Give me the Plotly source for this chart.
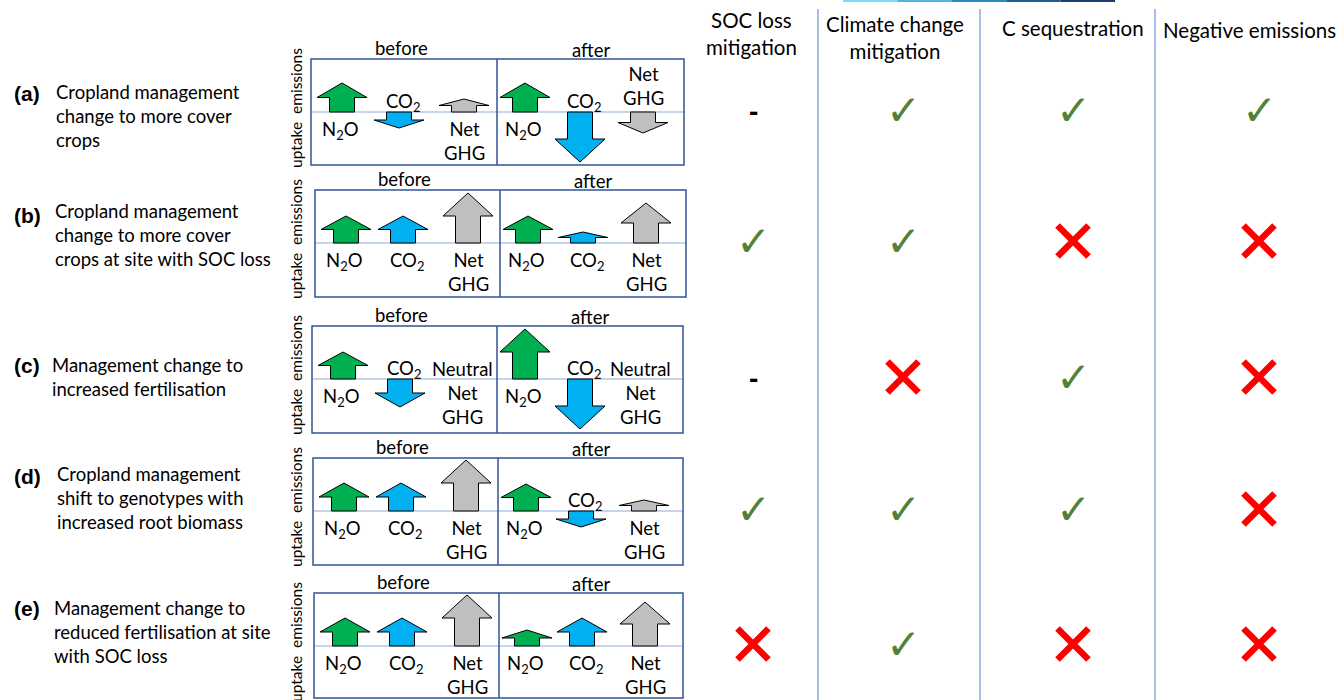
import plotly.graph_objects as go

W, H = 1339, 700

# ---------------- data ----------------
row_tags = ["(a)", "(b)", "(c)", "(d)", "(e)"]
descriptions = [
    "Cropland management<br>change to more cover<br>crops",
    "Cropland management<br>change to more cover<br>crops at site with SOC loss",
    "Management change to<br>increased fertilisation",
    "Cropland management<br>shift to genotypes with<br>increased root biomass",
    "Management change to<br>reduced fertilisation at site<br>with SOC loss",
]
gas_labels = ["N<sub>2</sub>O", "CO<sub>2</sub>", "Net<br>GHG"]
# signed flux sizes (positive = emissions, negative = uptake)
n2o_before = [29, 27, 27, 28, 28]
co2_before = [-16, 27, -28, 28, 28]
net_before = [13, 50, 0, 51, 51]
n2o_after = [29, 27, 50, 27, 16]
co2_after = [-50, 11, -50, -16, 28]
net_after = [-21, 40, 0, 11, 44]

columns = ["SOC loss<br>mitigation", "Climate change<br>mitigation", "C sequestration", "Negative emissions"]
outcomes = [
    ["dash", "check", "check", "check"],
    ["check", "check", "cross", "cross"],
    ["dash", "cross", "check", "cross"],
    ["check", "check", "check", "cross"],
    ["cross", "check", "cross", "cross"],
]

# ---------------- layout positions ----------------
box_top = [59, 190, 326, 458, 593]
box_bot = [165, 297, 433, 565, 698]
baseline = [112, 243, 379, 511, 646]
box_left = [311, 315, 312, 313, 314]
box_mid = [497, 500, 497, 498, 499]
box_right = [684, 686, 683, 683, 683]
before_off = [31, 88, 153]
after_off = [28, 83, 146]
desc_x = [54, 53, 50, 55, 52]
desc_dy = [4, -8, -2, -13, -14]
tag_y = [93, 215, 365, 476, 608]
col_x = [753, 903, 1073, 1259]
head_x = [751, 895, 1073, 1249]
head_y = [33, 37, 28, 30]
divider_x = [818, 980, 1155]

GREEN, BLUE, GREY = "#00B050", "#00B0F0", "#BFBFBF"
gas_colors = [GREEN, BLUE, GREY]
BOX = "#2F5597"
BASE = "#8FAADC"
FONT = "Lato"
TS = 18.5

fig = go.Figure()
shapes = []
ann = []


def arrow(cx, y0, L, color):
    a = abs(L)
    s = 1 if L > 0 else -1
    head = min(0.5 * a, 23)
    hw, sw = 50, 25
    yb = y0 - s * (a - head)
    yt = y0 - s * a
    xs = [cx - sw / 2, cx - sw / 2, cx - hw / 2, cx, cx + hw / 2, cx + sw / 2, cx + sw / 2, cx - sw / 2]
    ys = [y0, yb, yb, yt, yb, yb, y0, y0]
    fig.add_trace(go.Scatter(x=xs, y=ys, mode="lines", fill="toself", fillcolor=color,
                             line=dict(color="black", width=1), hoverinfo="skip", showlegend=False))


def txt(x, y, t, size=TS, color="black", xanchor="center", align="center", angle=0, family=FONT, bold=False):
    if bold:
        t = "<b>" + t + "</b>"
    ann.append(dict(x=x, y=y, xref="x", yref="y", text=t, showarrow=False, xanchor=xanchor,
                    yanchor="middle", align=align, textangle=angle,
                    font=dict(family=family, size=size, color=color)))


for r in range(5):
    y0 = baseline[r]
    # boxes
    shapes.append(dict(type="line", x0=box_left[r], x1=box_right[r], y0=y0, y1=y0, xref="x", yref="y",
                       line=dict(color=BASE, width=1.2), layer="below"))
    shapes.append(dict(type="rect", x0=box_left[r], x1=box_right[r], y0=box_top[r], y1=box_bot[r],
                       xref="x", yref="y", line=dict(color=BOX, width=1.5)))
    shapes.append(dict(type="line", x0=box_mid[r], x1=box_mid[r], y0=box_top[r], y1=box_bot[r],
                       xref="x", yref="y", line=dict(color=BOX, width=1.5)))
    txt((box_left[r] + box_mid[r]) / 2 - 3, box_top[r] - 11, "before")
    txt((box_mid[r] + box_right[r]) / 2, box_top[r] - 9, "after")
    txt(296, y0 - 31, "emissions", size=15.5, angle=-90)
    txt(296, y0 + 33, "uptake", size=15.5, angle=-90)
    # left description
    txt(12, tag_y[r], row_tags[r], size=21, xanchor="left", family="Liberation Sans", bold=True)
    txt(desc_x[r], y0 + desc_dy[r], descriptions[r], size=TS, xanchor="left", align="left")

    for panel, (vals, x_start, offs) in enumerate([
        ((n2o_before[r], co2_before[r], net_before[r]), box_left[r], before_off),
        ((n2o_after[r], co2_after[r], net_after[r]), box_mid[r], after_off)]):
        for g in range(3):
            cx = x_start + offs[g]
            L = vals[g]
            if L != 0:
                arrow(cx, y0, L, gas_colors[g])
            if g < 2:
                lx = cx - 2 if g == 0 else cx + 4
                ly = y0 + 18 if L > 0 else y0 - 10
                txt(lx, ly, gas_labels[g])
            else:
                if L > 0:
                    txt(cx, y0 + 29, gas_labels[g])
                elif L < 0:
                    txt(cx, y0 - 26, gas_labels[g])
                else:
                    txt(cx - 3, y0 - 10, "Neutral")
                    txt(cx - 3, y0 + 26, gas_labels[g])

    # outcomes
    for c in range(4):
        o = outcomes[r][c]
        x = col_x[c]
        y = y0 - 2
        if o == "check":
            txt(x, y, "✓", size=42, color="#548235", family="DejaVu Sans", bold=True)
        elif o == "dash":
            txt(x, y + 1, "-", size=28, family="Liberation Sans", bold=True)
        else:
            fig.add_trace(go.Scatter(x=[x], y=[y], mode="markers",
                                     marker=dict(symbol="x-thin", size=31, line=dict(color="#FF0000", width=6.5)),
                                     hoverinfo="skip", showlegend=False))

# column headers and dividers
for c in range(4):
    txt(head_x[c], head_y[c], columns[c], size=20.5)
for xd in divider_x:
    shapes.append(dict(type="line", x0=xd, x1=xd, y0=9, y1=H, xref="x", yref="y",
                       line=dict(color=BASE, width=1.5)))
# thin top bar
grad = ["#7FD6F7", "#4BB5E8", "#2A8AC7", "#1F5E95", "#1A3F6B"]
seg = (1115 - 843) / len(grad)
for i, cl in enumerate(grad):
    shapes.append(dict(type="line", x0=843 + i * seg, x1=843 + (i + 1) * seg, y0=1, y1=1, xref="x", yref="y",
                       line=dict(color=cl, width=2)))

fig.update_layout(
    width=W, height=H, margin=dict(l=0, r=0, t=0, b=0),
    paper_bgcolor="white", plot_bgcolor="white",
    xaxis=dict(range=[0, W], visible=False, fixedrange=True),
    yaxis=dict(range=[H, 0], visible=False, fixedrange=True),
    shapes=shapes, annotations=ann, showlegend=False,
)
fig.write_html("out.html", config={"displayModeBar": False},
               post_script="document.body.style.margin='0px';document.body.style.overflow='hidden';")
